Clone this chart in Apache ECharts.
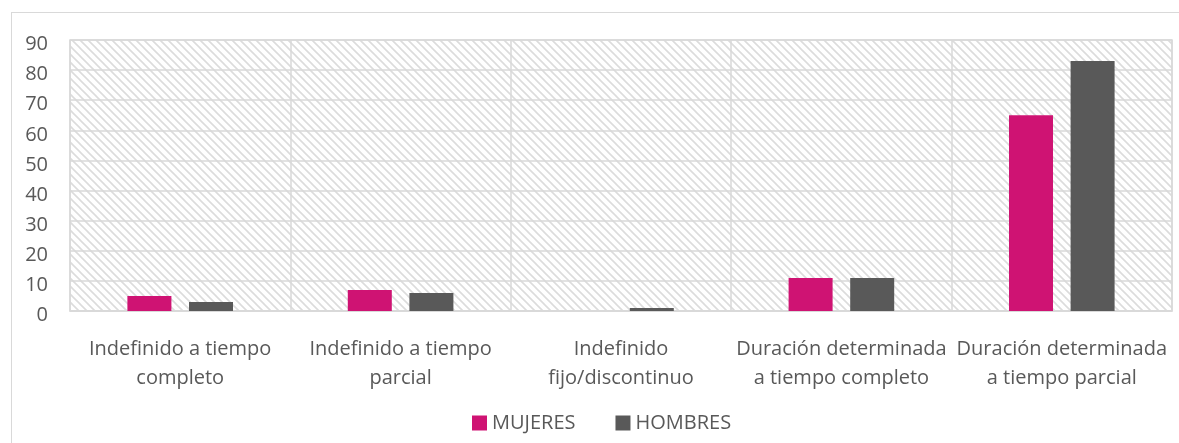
<!DOCTYPE html>
<html>
<head>
<meta charset="utf-8">
<script src="https://cdn.jsdelivr.net/npm/echarts@6/dist/echarts.min.js"></script>
<style>
  html, body { margin: 0; padding: 0; background: #fff; }
  #frame { position: absolute; left: 11px; top: 12px; width: 1200px; height: 440px; border: 1px solid #d9d9d9; box-sizing: border-box; }
  #chart { width: 1179px; height: 443px; position: absolute; left: 0; top: 0; }
</style>
</head>
<body>
<div id="frame"></div>
<div id="chart"></div>
<script>
// categorias y valores
var categorias = [
  'Indefinido a tiempo\ncompleto',
  'Indefinido a tiempo\nparcial',
  'Indefinido\nfijo/discontinuo',
  'Duración determinada\na tiempo completo',
  'Duración determinada\na tiempo parcial'
];
var mujeres = [5, 7, 0, 11, 65];
var hombres = [3, 6, 1, 11, 83];

// trama diagonal del fondo
function trama() {
  var c = document.createElement('canvas');
  c.width = 8; c.height = 8;
  var ctx = c.getContext('2d');
  ctx.fillStyle = '#ffffff';
  ctx.fillRect(0, 0, 8, 8);
  ctx.strokeStyle = '#dcdcdc';
  ctx.lineWidth = 1.6;
  ctx.beginPath();
  ctx.moveTo(-2, -2); ctx.lineTo(10, 10);
  ctx.moveTo(-6, 2); ctx.lineTo(6, 14);
  ctx.moveTo(2, -6); ctx.lineTo(14, 6);
  ctx.stroke();
  return c;
}

var gris = '#d9d9d9';
var texto = '#595959';
var fuente = 'Open Sans';

var chart = echarts.init(document.getElementById('chart'));
chart.setOption({
  animation: false,
  textStyle: { fontFamily: fuente },
  grid: {
    left: 70, right: 7, top: 40, bottom: 132,
    show: true,
    backgroundColor: { image: trama(), repeat: 'repeat' },
    borderColor: gris, borderWidth: 1.5
  },
  legend: {
    top: 408, left: 467,
    itemWidth: 15, itemHeight: 15, itemGap: 40,
    icon: 'rect',
    textStyle: { color: texto, fontSize: 20, fontFamily: fuente },
    data: ['MUJERES', 'HOMBRES']
  },
  xAxis: {
    type: 'category',
    data: categorias,
    axisLine: { lineStyle: { color: gris, width: 1.5 } },
    axisTick: { show: false },
    splitLine: { show: true, lineStyle: { color: gris, width: 1.5 } },
    axisLabel: {
      color: texto, fontSize: 20, lineHeight: 29, margin: 24,
      interval: 0, fontFamily: fuente
    }
  },
  yAxis: {
    type: 'value',
    min: 0, max: 90, interval: 10,
    axisLine: { show: false },
    axisTick: { show: false },
    splitLine: { lineStyle: { color: gris, width: 1.5 } },
    axisLabel: {
      margin: 22,
      formatter: '{v|{value}}',
      rich: {
        v: { color: texto, fontSize: 20, fontFamily: fuente, padding: [9, 0, 0, 0] }
      }
    }
  },
  series: [
    {
      name: 'MUJERES', type: 'bar', data: mujeres,
      itemStyle: { color: '#cf1373' },
      barWidth: 44, barGap: '40%'
    },
    {
      name: 'HOMBRES', type: 'bar', data: hombres,
      itemStyle: { color: '#595959' },
      barWidth: 44
    }
  ]
});
</script>
</body>
</html>
